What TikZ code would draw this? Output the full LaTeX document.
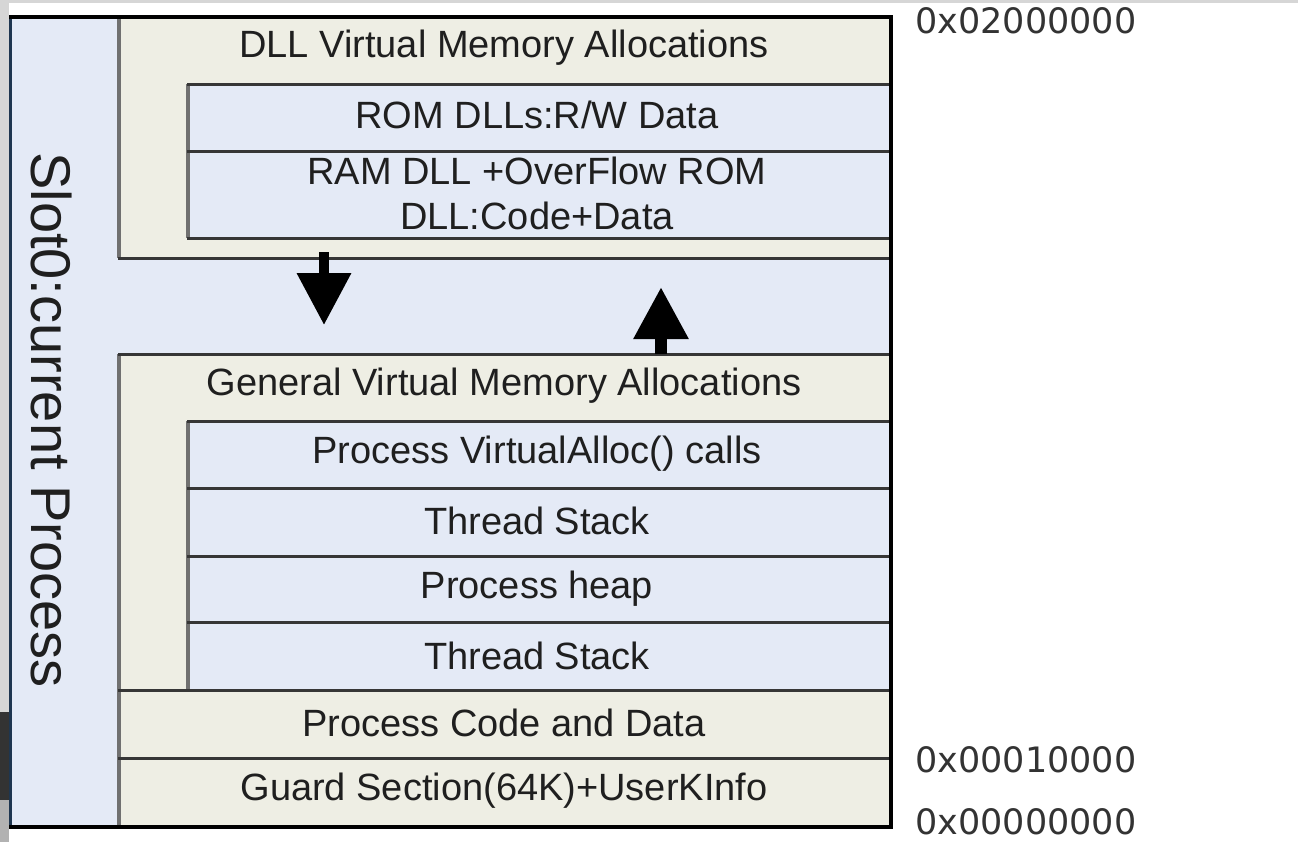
\documentclass[tikz,border=0pt]{standalone}
\usepackage{fontspec}
\setmainfont{Liberation Sans}
\newfontfamily\hexfont{DejaVu Sans}
\usetikzlibrary{arrows.meta}
\definecolor{slotblue}{HTML}{E4EAF6}
\definecolor{regionbeige}{HTML}{EEEEE4}
\definecolor{rulegray}{HTML}{707070}
\definecolor{ruledark}{HTML}{363636}
\definecolor{framenavy}{HTML}{1E3650}
\definecolor{edgegray}{HTML}{D6D6D6}
\begin{document}
\begin{tikzpicture}[x=0.5pt,y=-0.5pt,
  lbl/.style={inner sep=0pt, font=\fontsize{19}{22.5}\selectfont, align=center, text=black!88},
  hexlabel/.style={inner sep=0pt, anchor=west, font=\hexfont\fontsize{17.5}{20}\selectfont, text=black!80},
  hrule/.style={draw=ruledark, line width=1.5pt},
  vrule/.style={draw=rulegray, line width=2pt},
  growth/.style={draw=black, -{Triangle[length=26pt,width=26pt]}}
]
\useasboundingbox (0,0) rectangle (1298,842);
\fill[white] (0,0) rectangle (1298,842);
% screen edges around the figure
\fill[edgegray] (0,0) rectangle (1298,3);
\fill[edgegray] (0,0) rectangle (9,842);
\fill[black!80] (0,712) rectangle (9,800);
\fill[black!30] (0,800) rectangle (9,842);

% slot column and the free gap between the two allocation areas
\fill[slotblue] (12,17) rectangle (118,826);
\fill[slotblue] (118,258) rectangle (890,354);
% DLL area (grows down)
\fill[regionbeige] (118,17) rectangle (890,258);
\fill[slotblue] (188,84) rectangle (890,238);
% general area (grows up)
\fill[regionbeige] (118,354) rectangle (890,690);
\fill[slotblue] (188,421) rectangle (890,690);
% code and guard sections
\fill[regionbeige] (118,690) rectangle (890,826);

% rules
\draw[vrule] (119,17) -- (119,258);
\draw[vrule] (119,354) -- (119,826);
\draw[vrule] (188,84) -- (188,238);
\draw[vrule] (188,421) -- (188,690);
\draw[hrule] (187,84) -- (890,84);
\draw[hrule] (187,151) -- (890,151);
\draw[hrule] (187,238) -- (890,238);
\draw[hrule] (118,258) -- (890,258);
\draw[hrule] (118,354) -- (890,354);
\draw[hrule] (187,421) -- (890,421);
\draw[hrule] (187,488) -- (890,488);
\draw[hrule] (187,556) -- (890,556);
\draw[hrule] (187,622) -- (890,622);
\draw[hrule] (118,690) -- (890,690);
\draw[hrule] (118,758) -- (890,758);

% outer frame
\draw[framenavy, line width=1.8pt] (10.5,17) -- (10.5,827);
\draw[black, line width=2pt] (9,17) -- (891,17) -- (891,827) -- (9,827);

% labels
\node[lbl, font=\fontsize{28}{30}\selectfont, rotate=-90] (slot) at (52,420) {Slot0:current Process};
\node[lbl] (dllva)   at (504,48)  {DLL Virtual Memory Allocations};
\node[lbl] (romdll)  at (537,115) {ROM DLLs:R/W Data};
\node[lbl] (ramdll)  at (537,193) {RAM DLL +OverFlow ROM\\DLL:Code+Data};
\node[lbl] (genva)   at (504,386) {General Virtual Memory Allocations};
\node[lbl] (valloc)  at (537,454) {Process VirtualAlloc() calls};
\node[lbl] (stackA)  at (537,521) {Thread Stack};
\node[lbl] (heap)    at (537,589) {Process heap};
\node[lbl] (stackB)  at (537,656) {Thread Stack};
\node[lbl] (code)    at (504,723) {Process Code and Data};
\node[lbl] (guard)   at (504,791) {Guard Section(64K)+UserKInfo};

\node[hexlabel] (topaddr)  at (915,21)  {0x02000000};
\node[hexlabel] (codeaddr) at (915,760) {0x00010000};
\node[hexlabel] (zeroaddr) at (915,822) {0x00000000};

% growth directions
\coordinate (dllFrom) at (324,252);
\coordinate (dllTo)   at (324,325);
\coordinate (genFrom) at (661,354);
\coordinate (genTo)   at (661,287);
\draw[growth, line width=5pt] (dllFrom) -- (dllTo);
\draw[growth, line width=6pt] (genFrom) -- (genTo);
\end{tikzpicture}
\end{document}
